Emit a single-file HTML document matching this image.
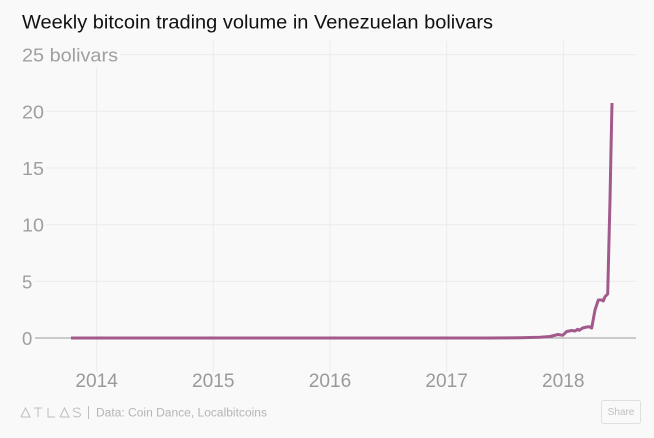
<!DOCTYPE html>
<html>
<head>
<meta charset="utf-8">
<style>
  html, body { margin: 0; padding: 0; background: #f9f9f9; }
  body { width: 654px; height: 438px; overflow: hidden; }
  svg { display: block; }
  text { font-family: "Liberation Sans", "DejaVu Sans", sans-serif; }
</style>
</head>
<body>
<svg width="654" height="438" viewBox="0 0 654 438" xmlns="http://www.w3.org/2000/svg">
  <rect x="0" y="0" width="654" height="438" fill="#f9f9f9"/>

  <!-- Title -->
  <text x="22" y="28.5" font-size="19" fill="#111" textLength="471" lengthAdjust="spacingAndGlyphs">Weekly bitcoin trading volume in Venezuelan bolivars</text>

  <!-- vertical gridlines -->
  <g stroke="#ebebeb" stroke-width="1">
    <line x1="96.7" y1="41" x2="96.7" y2="372"/>
    <line x1="213.3" y1="41" x2="213.3" y2="372"/>
    <line x1="330" y1="41" x2="330" y2="372"/>
    <line x1="446.7" y1="41" x2="446.7" y2="372"/>
    <line x1="563.3" y1="41" x2="563.3" y2="372"/>
  </g>

  <!-- horizontal gridlines -->
  <g stroke="#ebebeb" stroke-width="1">
    <line x1="35" y1="54.7" x2="636" y2="54.7"/>
    <line x1="35" y1="111.3" x2="636" y2="111.3"/>
    <line x1="35" y1="168" x2="636" y2="168"/>
    <line x1="35" y1="224.7" x2="636" y2="224.7"/>
    <line x1="35" y1="281.3" x2="636" y2="281.3"/>
  </g>
  <!-- zero line -->
  <line x1="35" y1="338" x2="636" y2="338" stroke="#9a9a9a" stroke-width="1"/>

  <!-- y labels with background -->
  <g fill="#f9f9f9">
    <rect x="19" y="41" width="101" height="27"/>
    <rect x="19" y="100" width="27" height="22"/>
    <rect x="19" y="157" width="27" height="22"/>
    <rect x="19" y="213" width="27" height="22"/>
    <rect x="19" y="270" width="16" height="22"/>
    <rect x="19" y="327" width="16" height="22"/>
  </g>
  <g font-size="18.5" fill="#a0a0a0">
    <text x="22" y="61.7" textLength="96" lengthAdjust="spacingAndGlyphs">25 bolivars</text>
    <text x="22" y="118.3" textLength="22" lengthAdjust="spacingAndGlyphs">20</text>
    <text x="22" y="175" textLength="22" lengthAdjust="spacingAndGlyphs">15</text>
    <text x="22" y="231.7" textLength="22" lengthAdjust="spacingAndGlyphs">10</text>
    <text x="22" y="288.3">5</text>
    <text x="22" y="345">0</text>
  </g>

  <!-- x labels -->
  <g font-size="19" fill="#9a9a9a" text-anchor="middle">
    <text x="96.7" y="387" textLength="42.5" lengthAdjust="spacingAndGlyphs">2014</text>
    <text x="213.3" y="387" textLength="42.5" lengthAdjust="spacingAndGlyphs">2015</text>
    <text x="330" y="387" textLength="42.5" lengthAdjust="spacingAndGlyphs">2016</text>
    <text x="446.7" y="387" textLength="42.5" lengthAdjust="spacingAndGlyphs">2017</text>
    <text x="563.3" y="387" textLength="42.5" lengthAdjust="spacingAndGlyphs">2018</text>
  </g>

  <!-- data line -->
  <path d="M71,338 L487,338 L520,337.8 L540,337.3 L550,336.5 L558,334.5 L562.7,335.3 L566.7,331.5 L571.7,330.5 L575,331 L577.7,329.3 L579.3,330.3 L582.7,328 L586.7,327 L589.3,326.7 L591.7,328 L595,310 L598.3,300 L602.3,300 L603.3,301 L605,296.7 L607.7,294 L609,240 L610,200 L611,150 L612,103"
        fill="none" stroke="#a15a8b" stroke-width="3" stroke-linejoin="round" stroke-linecap="butt"/>

  <!-- footer: ATLAS logo -->
  <g stroke="#bdbdbd" stroke-width="1" fill="none">
    <polyline points="21,417 25.5,408 30,417 21,417"/>
    <line x1="34" y1="408" x2="42" y2="408"/>
    <line x1="38" y1="408" x2="38" y2="417"/>
    <polyline points="48,408 48,417 55,417"/>
    <polyline points="60,417 64.5,408 69,417 60,417"/>
    <path d="M80,409.5 C79,407.5 73.5,407.5 73.5,410 C73.5,412.5 80.5,412 80.5,414.5 C80.5,417.5 74.5,417.5 73.5,415.5"/>
    <line x1="88.5" y1="406" x2="88.5" y2="419"/>
  </g>
  <text x="96" y="416.5" font-size="11.5" fill="#b5b5b5" textLength="171" lengthAdjust="spacingAndGlyphs">Data:  Coin Dance, Localbitcoins</text>

  <!-- Share button -->
  <rect x="601.5" y="400.5" width="39" height="23" rx="2" ry="2" fill="#f9f9f9" stroke="#e0e0e0" stroke-width="1"/>
  <text x="621" y="415" font-size="10" fill="#c0c0c0" text-anchor="middle">Share</text>
</svg>
</body>
</html>
